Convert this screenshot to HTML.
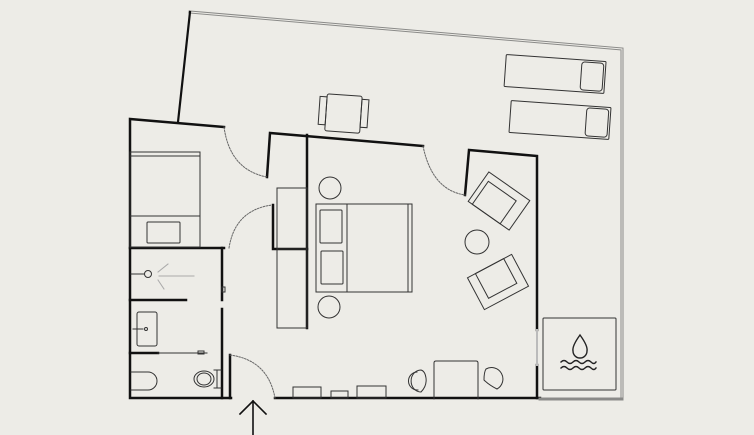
<!DOCTYPE html>
<html><head><meta charset="utf-8"><style>
html,body{margin:0;padding:0;background:#edece7;}
svg{display:block}
</style></head><body>
<svg width="754" height="435" viewBox="0 0 754 435" xmlns="http://www.w3.org/2000/svg" fill="none" stroke-linecap="square">
<rect width="754" height="435" fill="#edece7"/>
<path d="M190 12 L622 49 L622 399" stroke="#8a8a88" stroke-width="3"/>
<path d="M190 12 L622 49 L622 399" stroke="#edece7" stroke-width="1"/>
<path d="M190 12 L178 122" stroke="#111" stroke-width="2.2"/>
<g stroke="#111" stroke-width="2.5">
<path d="M224 127 L130 119 L130 398 L231 398"/>
<path d="M275 398 L540 398"/>
<path d="M267 177 L270 133 L423 146"/>
<path d="M307 135 L307 328"/>
<path d="M465 195 L469 150 L537 156 L537 330"/>
<path d="M537 365 L537 398"/>
<path d="M130 248 L224 248"/>
<path d="M222 248 L222 300"/>
<path d="M222 309 L222 398"/>
<path d="M230 355 L230 398"/>
<path d="M273 205 L273 249 L307 249"/>
<path d="M130 300 L186 300"/>
<path d="M130 353 L158 353"/>
</g>
<path d="M540 399 L622 399" stroke="#8a8a88" stroke-width="3"/>
<path d="M537 330 L537 365" stroke="#bbb" stroke-width="2"/>
<g stroke="#666" stroke-width="1" stroke-dasharray="1.5 1.5">
<path d="M224 127 Q230 170 267 177"/>
<path d="M423 146 Q432 190 465 195"/>
<path d="M229 248 Q235 210 272 205"/>
<path d="M230 355 Q268 360 275 398"/>
</g>
<g stroke="#333" stroke-width="1">
<rect x="130" y="152" width="70" height="95"/>
<line x1="130" y1="156" x2="200" y2="156"/>
<line x1="130" y1="216" x2="200" y2="216"/>
<rect x="147" y="222" width="33" height="21" rx="1"/>
<rect x="277" y="188" width="30" height="140"/>
<line x1="277" y1="249" x2="307" y2="249"/>
<circle cx="148" cy="274" r="3.5"/>
<line x1="131" y1="274" x2="144" y2="274"/>
<rect x="137" y="312" width="20" height="34" rx="2"/>
<circle cx="146" cy="329" r="1.5"/>
<line x1="133" y1="329" x2="143" y2="329"/>
<line x1="158" y1="353" x2="207" y2="353"/>
<rect x="198" y="351" width="6" height="3"/>
<path d="M131 372 L148 372 A9 9 0 0 1 148 390 L131 390"/>
<ellipse cx="204" cy="379" rx="10" ry="8"/>
<ellipse cx="204" cy="379" rx="7" ry="6"/>
<line x1="217" y1="370" x2="217" y2="388"/>
<line x1="214" y1="370" x2="221" y2="370"/>
<line x1="214" y1="388" x2="221" y2="388"/>
<rect x="222" y="287" width="3" height="5"/>
<rect x="316" y="204" width="96" height="88"/>
<line x1="347" y1="204" x2="347" y2="292"/>
<line x1="408" y1="204" x2="408" y2="292"/>
<rect x="320" y="210" width="22" height="33" rx="1"/>
<rect x="321" y="251" width="22" height="33" rx="1"/>
<circle cx="330" cy="188" r="11"/>
<circle cx="329" cy="307" r="11"/>
<g transform="translate(499,201) rotate(35)">
<rect x="-25" y="-18" width="50" height="36"/>
<rect x="-20" y="-10" width="34" height="28"/>
</g>
<g transform="translate(498,282) rotate(-28)">
<rect x="-25" y="-18" width="50" height="36"/>
<rect x="-16" y="-18" width="32" height="28"/>
</g>
<circle cx="477" cy="242" r="12"/>
<path d="M434 399 L434 363 Q434 361 436 361 L476 361 Q478 361 478 363 L478 399"/>
<path d="M421 370 A9 10 0 1 0 421 392 Q427 386 426 378 Q425 371 421 370Z"/>
<path d="M417 372 A9 9 0 0 0 418 390"/>
<path d="M486 369 A10 10 0 1 1 497 389 Q489 385 484 380 Q484 372 486 369Z"/>
<rect x="293" y="387" width="28" height="11"/>
<rect x="331" y="391" width="17" height="7"/>
<rect x="357" y="386" width="29" height="12"/>
<rect x="543" y="318" width="73" height="72" rx="1"/>
<rect x="326" y="95" width="35" height="37" rx="2" transform="rotate(4 343 113)"/>
<rect x="319" y="98" width="7" height="28" transform="rotate(4 343 113)"/>
<rect x="361" y="98" width="7" height="28" transform="rotate(4 343 113)"/>
<g transform="rotate(4 555 75)">
<rect x="505" y="58" width="100" height="32" rx="1"/>
<rect x="581" y="60" width="22" height="28" rx="3"/>
</g>
<g transform="rotate(4 560 120)">
<rect x="510" y="104" width="100" height="32" rx="1"/>
<rect x="586" y="106" width="22" height="28" rx="3"/>
</g>
</g>
<g stroke="#aaa" stroke-width="1">
<line x1="159" y1="276" x2="194" y2="276"/>
<line x1="158" y1="272" x2="168" y2="264"/>
<line x1="158" y1="280" x2="164" y2="289"/>
</g>
<g stroke="#222" stroke-width="1.4">
<path d="M580 335 Q572 346 573 351 A7 7 0 0 0 587 351 Q588 346 580 335Z"/>
<path d="M561 362 q3 -3 6 0 t6 0 t6 0 t6 0 t6 0 t5 0"/>
<path d="M561 368 q3 -3 6 0 t6 0 t6 0 t6 0 t6 0 t5 0"/>
</g>
<g stroke="#111" stroke-width="1.6">
<path d="M253 401 L253 435"/>
<path d="M240 414 L253 401 L266 414"/>
</g>
</svg>
</body></html>
